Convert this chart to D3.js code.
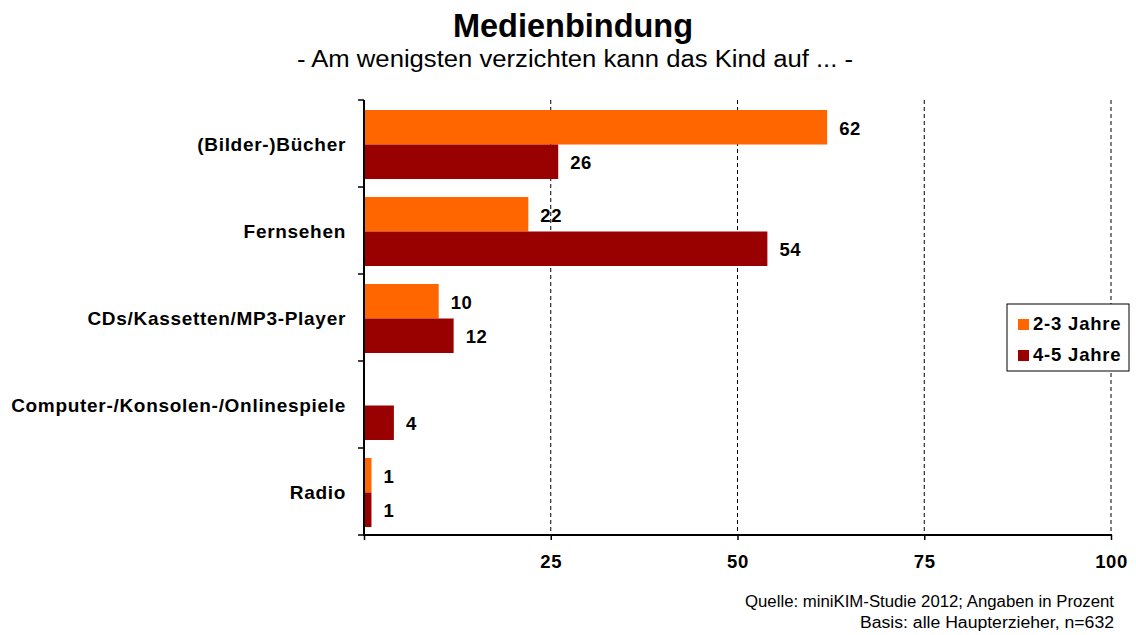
<!DOCTYPE html>
<html>
<head>
<meta charset="utf-8">
<script src="https://cdn.jsdelivr.net/npm/d3@7"></script>
<style>
  html, body { margin: 0; padding: 0; background: #fff; }
  svg { display: block; font-family: "Liberation Sans", Arial, sans-serif; }
</style>
</head>
<body>
<svg id="chart" width="1136" height="635"></svg>
<script>
// Media attachment: which medium children can least do without (percent)
const categories = ["(Bilder-)Bücher", "Fernsehen", "CDs/Kassetten/MP3-Player", "Computer-/Konsolen-/Onlinespiele", "Radio"];
const seriesNames = ["2-3 Jahre", "4-5 Jahre"];
const values23 = [62, 22, 10, 0, 1];
const values45 = [26, 54, 12, 4, 1];
const xTicks = [0, 25, 50, 75, 100];
const seriesColors = ["#FF6600", "#990000"];

const svg = d3.select("#chart");

const x = d3.scaleLinear().domain([0, 100]).range([364, 1111]);
const y = d3.scaleBand().domain(categories).range([100, 535]).padding(0);
const sub = d3.scaleBand().domain(seriesNames).range([10, 79]).padding(0);

const rows = categories.map((c, i) => ({
  cat: c,
  vals: [
    { s: seriesNames[0], v: values23[i], color: seriesColors[0] },
    { s: seriesNames[1], v: values45[i], color: seriesColors[1] }
  ]
}));

// Dashed vertical gridlines
svg.append("g")
  .selectAll("line")
  .data(xTicks.filter(d => d > 0))
  .join("line")
  .attr("x1", d => x(d)).attr("x2", d => x(d))
  .attr("y1", 100).attr("y2", 535)
  .attr("stroke", "#000")
  .attr("stroke-width", 1)
  .attr("stroke-dasharray", "4,3");

// Bars
const groups = svg.append("g")
  .selectAll("g")
  .data(rows)
  .join("g")
  .attr("transform", d => `translate(0,${y(d.cat)})`);

groups.selectAll("rect")
  .data(d => d.vals)
  .join("rect")
  .attr("x", x(0))
  .attr("y", d => sub(d.s))
  .attr("width", d => Math.max(1, x(d.v) - x(0)))
  .attr("height", sub.bandwidth())
  .attr("fill", d => d.color);

// Value labels
groups.selectAll("text")
  .data(d => d.vals.filter(v => v.v > 0))
  .join("text")
  .attr("x", d => x(d.v) + 12)
  .attr("y", d => sub(d.s) + sub.bandwidth() / 2 + 7.5)
  .attr("font-size", 18.5)
  .attr("font-weight", "bold")
  .attr("letter-spacing", 0.6)
  .text(d => d.v);

// X axis
const xAxis = svg.append("g")
  .attr("transform", "translate(0,535)")
  .call(d3.axisBottom(x).tickValues(xTicks).tickSize(5).tickPadding(15)
    .tickFormat(d => d === 0 ? "" : d));
xAxis.select(".domain").attr("stroke", "#000").attr("stroke-width", 2)
  .attr("d", `M${x(0) - 1},0H${x(100) + 1}`);
xAxis.selectAll(".tick line").attr("stroke", "#000").attr("stroke-width", 1.5);
xAxis.selectAll(".tick text")
  .attr("font-size", 18.5)
  .attr("font-weight", "bold")
  .attr("letter-spacing", 0.6)
  .attr("fill", "#000")
  .attr("font-family", "\"Liberation Sans\", Arial, sans-serif");

// Y axis with ticks at category boundaries
const yBounds = categories.map(c => y(c)).concat([y.range()[1]]);
const yAxis = svg.append("g");
yAxis.append("line")
  .attr("x1", x(0)).attr("x2", x(0))
  .attr("y1", 100).attr("y2", 536)
  .attr("stroke", "#000").attr("stroke-width", 2);
yAxis.selectAll("line.tick")
  .data(yBounds)
  .join("line")
  .attr("class", "tick")
  .attr("x1", x(0) - 6).attr("x2", x(0))
  .attr("y1", d => d).attr("y2", d => d)
  .attr("stroke", "#000").attr("stroke-width", 1.5);
yAxis.selectAll("text")
  .data(categories)
  .join("text")
  .attr("x", 346)
  .attr("y", d => y(d) + y.bandwidth() / 2 + 7)
  .attr("text-anchor", "end")
  .attr("font-size", 19)
  .attr("font-weight", "bold")
  .attr("letter-spacing", 0.7)
  .text(d => d);

// Title and subtitle
svg.append("text")
  .attr("x", 573).attr("y", 37)
  .attr("text-anchor", "middle")
  .attr("font-size", 32.5)
  .attr("font-weight", "bold")
  .text("Medienbindung");
svg.append("text")
  .attr("x", 575).attr("y", 67)
  .attr("text-anchor", "middle")
  .attr("font-size", 23)
  .attr("textLength", 556)
  .attr("lengthAdjust", "spacingAndGlyphs")
  .text("- Am wenigsten verzichten kann das Kind auf ... -");

// Legend
const legend = svg.append("g").attr("transform", "translate(1007,304)");
legend.append("rect")
  .attr("width", 122).attr("height", 67)
  .attr("fill", "#fff").attr("stroke", "#000").attr("stroke-width", 1);
const items = legend.selectAll("g")
  .data(seriesNames)
  .join("g")
  .attr("transform", (d, i) => `translate(0,${i * 31})`);
items.append("rect")
  .attr("x", 11).attr("y", 15)
  .attr("width", 11).attr("height", 11)
  .attr("fill", (d, i) => seriesColors[i]);
items.append("text")
  .attr("x", 26).attr("y", 26)
  .attr("font-size", 18.5)
  .attr("font-weight", "bold")
  .attr("letter-spacing", 0.8)
  .text(d => d);

// Source note
const notes = ["Quelle: miniKIM-Studie 2012; Angaben in Prozent", "Basis: alle Haupterzieher, n=632"];
const noteWidths = [369, 254];
svg.append("g")
  .selectAll("text")
  .data(notes)
  .join("text")
  .attr("x", 1114)
  .attr("y", (d, i) => 607 + i * 21)
  .attr("text-anchor", "end")
  .attr("font-size", 16)
  .attr("textLength", (d, i) => noteWidths[i])
  .attr("lengthAdjust", "spacingAndGlyphs")
  .text(d => d);
</script>
</body>
</html>
